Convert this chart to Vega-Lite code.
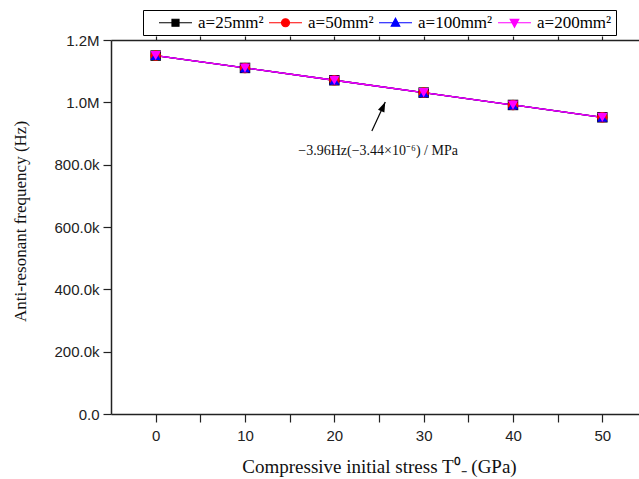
{
  "$schema": "https://vega.github.io/schema/vega-lite/v6.json",
  "autosize": "none",
  "padding": {"left": 111, "top": 40, "right": 0, "bottom": 65},
  "width": 536,
  "height": 374,
  "background": "white",
  "config": {
    "view": {"stroke": null},
    "axis": {
      "labelFont": "Liberation Sans",
      "labelFontSize": 15,
      "labelColor": "#222",
      "titleFont": "Liberation Serif",
      "titleFontSize": 19,
      "titleFontWeight": "normal",
      "titleColor": "#111",
      "domainColor": "#222",
      "domainWidth": 1.5,
      "tickColor": "#222",
      "tickWidth": 1.2,
      "grid": false
    },
    "legend": {
      "orient": "none",
      "legendX": 32,
      "legendY": -30,
      "direction": "horizontal",
      "strokeColor": "#000",
      "fillColor": "#fff",
      "padding": 4,
      "columnPadding": 0,
      "labelFont": "Liberation Serif",
      "labelFontSize": 17,
      "labelColor": "#000",
      "labelOffset": 27,
      "symbolOffset": 0,
      "symbolSize": 225,
      "titleFont": "Liberation Serif",
      "titleFontSize": 17,
      "titleOrient": "left",
      "titlePadding": 7
    }
  },
  "datasets": {
    "series": [
      {"stress": 0, "freq": 1150000, "series": "a=25mm²"},
      {"stress": 10, "freq": 1110400, "series": "a=25mm²"},
      {"stress": 20, "freq": 1070800, "series": "a=25mm²"},
      {"stress": 30, "freq": 1031200, "series": "a=25mm²"},
      {"stress": 40, "freq": 991600, "series": "a=25mm²"},
      {"stress": 50, "freq": 952000, "series": "a=25mm²"},
      {"stress": 0, "freq": 1150000, "series": "a=50mm²"},
      {"stress": 10, "freq": 1110400, "series": "a=50mm²"},
      {"stress": 20, "freq": 1070800, "series": "a=50mm²"},
      {"stress": 30, "freq": 1031200, "series": "a=50mm²"},
      {"stress": 40, "freq": 991600, "series": "a=50mm²"},
      {"stress": 50, "freq": 952000, "series": "a=50mm²"},
      {"stress": 0, "freq": 1150000, "series": "a=100mm²"},
      {"stress": 10, "freq": 1110400, "series": "a=100mm²"},
      {"stress": 20, "freq": 1070800, "series": "a=100mm²"},
      {"stress": 30, "freq": 1031200, "series": "a=100mm²"},
      {"stress": 40, "freq": 991600, "series": "a=100mm²"},
      {"stress": 50, "freq": 952000, "series": "a=100mm²"},
      {"stress": 0, "freq": 1150000, "series": "a=200mm²"},
      {"stress": 10, "freq": 1110400, "series": "a=200mm²"},
      {"stress": 20, "freq": 1070800, "series": "a=200mm²"},
      {"stress": 30, "freq": 1031200, "series": "a=200mm²"},
      {"stress": 40, "freq": 991600, "series": "a=200mm²"},
      {"stress": 50, "freq": 952000, "series": "a=200mm²"}
    ],
    "arrow": [
      {"x": 24.2, "y": 908000, "x2": 25.7, "y2": 1001000}
    ],
    "note": [
      {"x": 24.9, "y": 845000, "label": "−3.96Hz(−3.44×10⁻⁶) / MPa"}
    ]
  },
  "resolve": {"axis": {"x": "independent"}},
  "layer": [
    {
      "data": {"name": "series"},
      "mark": {"type": "line", "strokeWidth": 1.3},
      "encoding": {
        "x": {
          "field": "stress", "type": "quantitative",
          "scale": {"domain": [-5, 55], "nice": false, "zero": false},
          "axis": {
            "orient": "bottom",
            "title": "Compressive initial stress T⁰₋ (GPa)",
            "titlePadding": 14,
            "values": [0, 5, 10, 15, 20, 25, 30, 35, 40, 45, 50],
            "labelExpr": "datum.value % 10 === 0 ? datum.value : ''",
            "tickSize": 8,
            "labelPadding": 6,
            "encode": {"ticks": {"update": {"y2": {"signal": "datum.value % 10 === 0 ? 8 : 4"}}}}
          }
        },
        "y": {
          "field": "freq", "type": "quantitative",
          "scale": {"domain": [0, 1200000], "nice": false},
          "axis": {
            "title": "Anti-resonant frequency (Hz)",
            "titleFontSize": 17,
            "titlePadding": 24,
            "titleY": 181,
            "values": [0, 100000, 200000, 300000, 400000, 500000, 600000, 700000, 800000, 900000, 1000000, 1100000, 1200000],
            "labelExpr": "datum.value % 200000 !== 0 ? '' : (datum.value === 0 ? '0.0' : (datum.value >= 1000000 ? format(datum.value/1000000, '.1f') + 'M' : format(datum.value/1000, '.1f') + 'k'))",
            "tickSize": 8,
            "labelPadding": 4,
            "encode": {"ticks": {"update": {"x2": {"signal": "datum.value % 200000 === 0 ? -8 : -4"}}}}
          }
        },
        "color": {
          "field": "series", "type": "nominal",
          "scale": {"domain": ["a=25mm²", "a=50mm²", "a=100mm²", "a=200mm²"], "range": ["#000000", "#ff0000", "#0000ff", "#ff00ff"]},
          "legend": {
            "title": " ",
            "encode": {
              "symbols": {
                "update": {
                  "shape": {"signal": "datum.value === 'a=25mm²' ? 'M-0.467,0H3.933M1.267,-0.467H2.2V0.467H1.267Z' : datum.value === 'a=50mm²' ? 'M-0.467,0H3.933M1.203,0A0.53,0.53,0,1,0,2.263,0A0.53,0.53,0,1,0,1.203,0Z' : datum.value === 'a=100mm²' ? 'M-0.467,0H3.933M1.733,-0.6L2.3,0.45L1.166,0.45Z' : 'M-0.467,0H3.933M1.733,0.6L2.3,-0.45L1.166,-0.45Z'"},
                  "size": {"value": 225},
                  "stroke": {"scale": "color", "field": "value"},
                  "fill": {"scale": "color", "field": "value"},
                  "strokeWidth": {"value": 1.2},
                  "opacity": {"value": 1}
                }
              }
            }
          }
        },
        "detail": {"field": "series"}
      }
    },
    {
      "data": {"name": "series"},
      "mark": {"type": "point", "filled": true, "opacity": 1, "size": 110},
      "encoding": {
        "x": {
          "field": "stress", "type": "quantitative",
          "axis": {
            "orient": "top",
            "title": null,
            "labels": false,
            "values": [0, 5, 10, 15, 20, 25, 30, 35, 40, 45, 50],
            "tickSize": 4,
            "encode": {"ticks": {"update": {"y2": {"value": 4}}}}
          }
        },
        "y": {"field": "freq", "type": "quantitative"},
        "color": {"field": "series", "type": "nominal", "legend": null},
        "shape": {
          "field": "series", "type": "nominal",
          "scale": {"domain": ["a=200mm²", "a=100mm²", "a=50mm²", "a=25mm²"], "range": ["triangle-down", "triangle-up", "circle", "square"]},
          "legend": null
        }
      }
    },
    {
      "data": {"name": "arrow"},
      "mark": {"type": "rule", "color": "#000", "strokeWidth": 1.2},
      "encoding": {
        "x": {"field": "x", "type": "quantitative", "axis": null},
        "y": {"field": "y", "type": "quantitative"},
        "x2": {"field": "x2"},
        "y2": {"field": "y2"}
      }
    },
    {
      "data": {"name": "arrow"},
      "mark": {"type": "point", "filled": true, "color": "#000", "opacity": 1, "shape": "M0,0L-0.35,1L0.35,1Z", "size": 400, "angle": 24},
      "encoding": {
        "x": {"field": "x2", "type": "quantitative", "axis": null},
        "y": {"field": "y2", "type": "quantitative"}
      }
    },
    {
      "data": {"name": "note"},
      "mark": {"type": "text", "font": "Liberation Serif", "fontSize": 14, "color": "#111", "align": "center", "baseline": "middle"},
      "encoding": {
        "x": {"field": "x", "type": "quantitative", "axis": null},
        "y": {"field": "y", "type": "quantitative"},
        "text": {"field": "label"}
      }
    }
  ]
}
